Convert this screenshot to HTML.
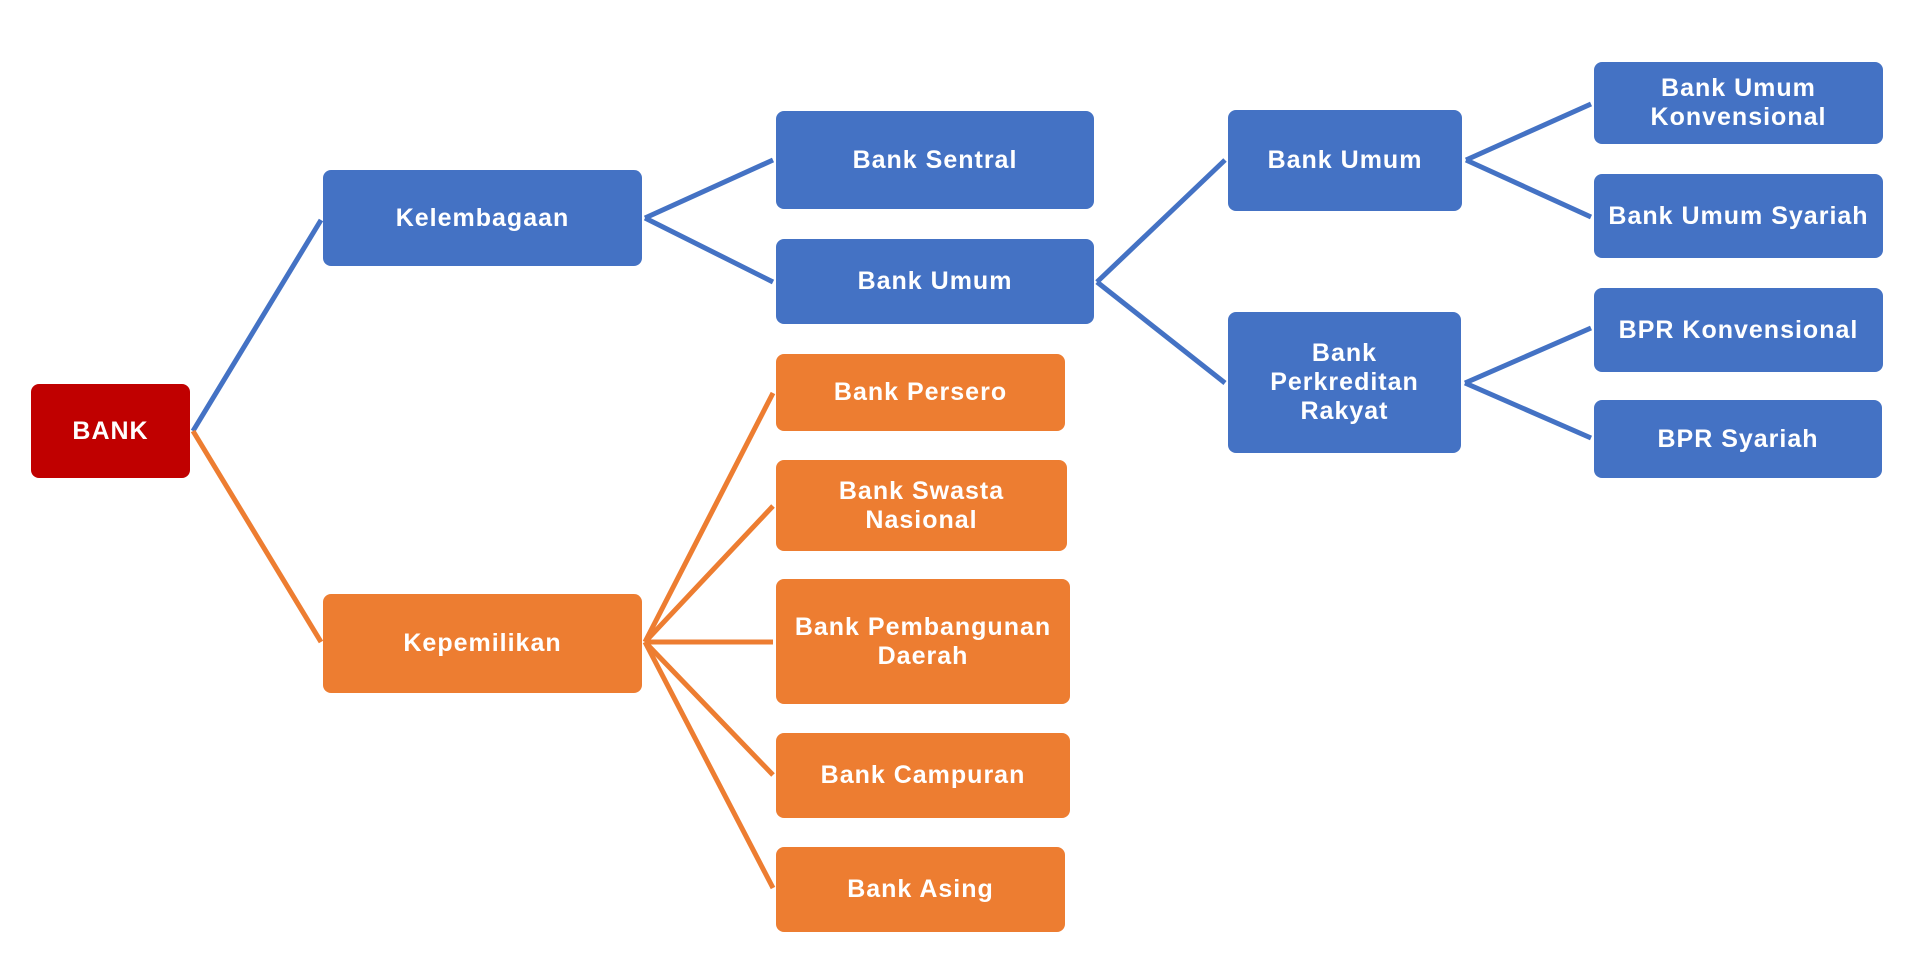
<!DOCTYPE html>
<html><head><style>
body{margin:0;width:1920px;height:978px;background:#fff;position:relative;overflow:hidden;font-family:"Liberation Sans",Arial,sans-serif}
.b{position:absolute;display:flex;align-items:center;justify-content:center;text-align:center;color:#fff;font-weight:bold;font-size:25px;line-height:29px;letter-spacing:1px;border-radius:8px;box-sizing:border-box}
.bl{background:#4472C4}.or{background:#ED7D31}.rd{background:#C00000}
svg{position:absolute;left:0;top:0}
</style></head><body>
<svg width="1920" height="978">
<g stroke="#4472C4" stroke-width="5" fill="none">
<line x1="193" y1="431" x2="321" y2="220"/>
<line x1="645" y1="218" x2="773" y2="160"/><line x1="645" y1="218" x2="773" y2="282"/>
<line x1="1097" y1="282" x2="1225" y2="160"/><line x1="1097" y1="282" x2="1225" y2="383"/>
<line x1="1466" y1="160" x2="1591" y2="104"/><line x1="1466" y1="160" x2="1591" y2="217"/>
<line x1="1465" y1="383" x2="1591" y2="328"/><line x1="1465" y1="383" x2="1591" y2="438"/>
</g>
<g stroke="#ED7D31" stroke-width="5" fill="none">
<line x1="193" y1="431" x2="321" y2="642"/>
<line x1="645" y1="642" x2="773" y2="393"/><line x1="645" y1="642" x2="773" y2="506"/>
<line x1="645" y1="642" x2="773" y2="642"/><line x1="645" y1="642" x2="773" y2="775"/>
<line x1="645" y1="642" x2="773" y2="888"/>
</g>
</svg>
<div class="b rd" style="left:31px;top:384px;width:159px;height:94px">BANK</div>
<div class="b bl" style="left:323px;top:170px;width:319px;height:96px">Kelembagaan</div>
<div class="b or" style="left:323px;top:594px;width:319px;height:99px">Kepemilikan</div>
<div class="b bl" style="left:776px;top:111px;width:318px;height:98px">Bank Sentral</div>
<div class="b bl" style="left:776px;top:239px;width:318px;height:85px">Bank Umum</div>
<div class="b or" style="left:776px;top:354px;width:289px;height:77px">Bank Persero</div>
<div class="b or" style="left:776px;top:460px;width:291px;height:91px">Bank Swasta<br>Nasional</div>
<div class="b or" style="left:776px;top:579px;width:294px;height:125px">Bank Pembangunan<br>Daerah</div>
<div class="b or" style="left:776px;top:733px;width:294px;height:85px">Bank Campuran</div>
<div class="b or" style="left:776px;top:847px;width:289px;height:85px">Bank Asing</div>
<div class="b bl" style="left:1228px;top:110px;width:234px;height:101px">Bank Umum</div>
<div class="b bl" style="left:1228px;top:312px;width:233px;height:141px">Bank<br>Perkreditan<br>Rakyat</div>
<div class="b bl" style="left:1594px;top:62px;width:289px;height:82px">Bank Umum<br>Konvensional</div>
<div class="b bl" style="left:1594px;top:174px;width:289px;height:84px">Bank Umum Syariah</div>
<div class="b bl" style="left:1594px;top:288px;width:289px;height:84px">BPR Konvensional</div>
<div class="b bl" style="left:1594px;top:400px;width:288px;height:78px">BPR Syariah</div>
</body></html>
